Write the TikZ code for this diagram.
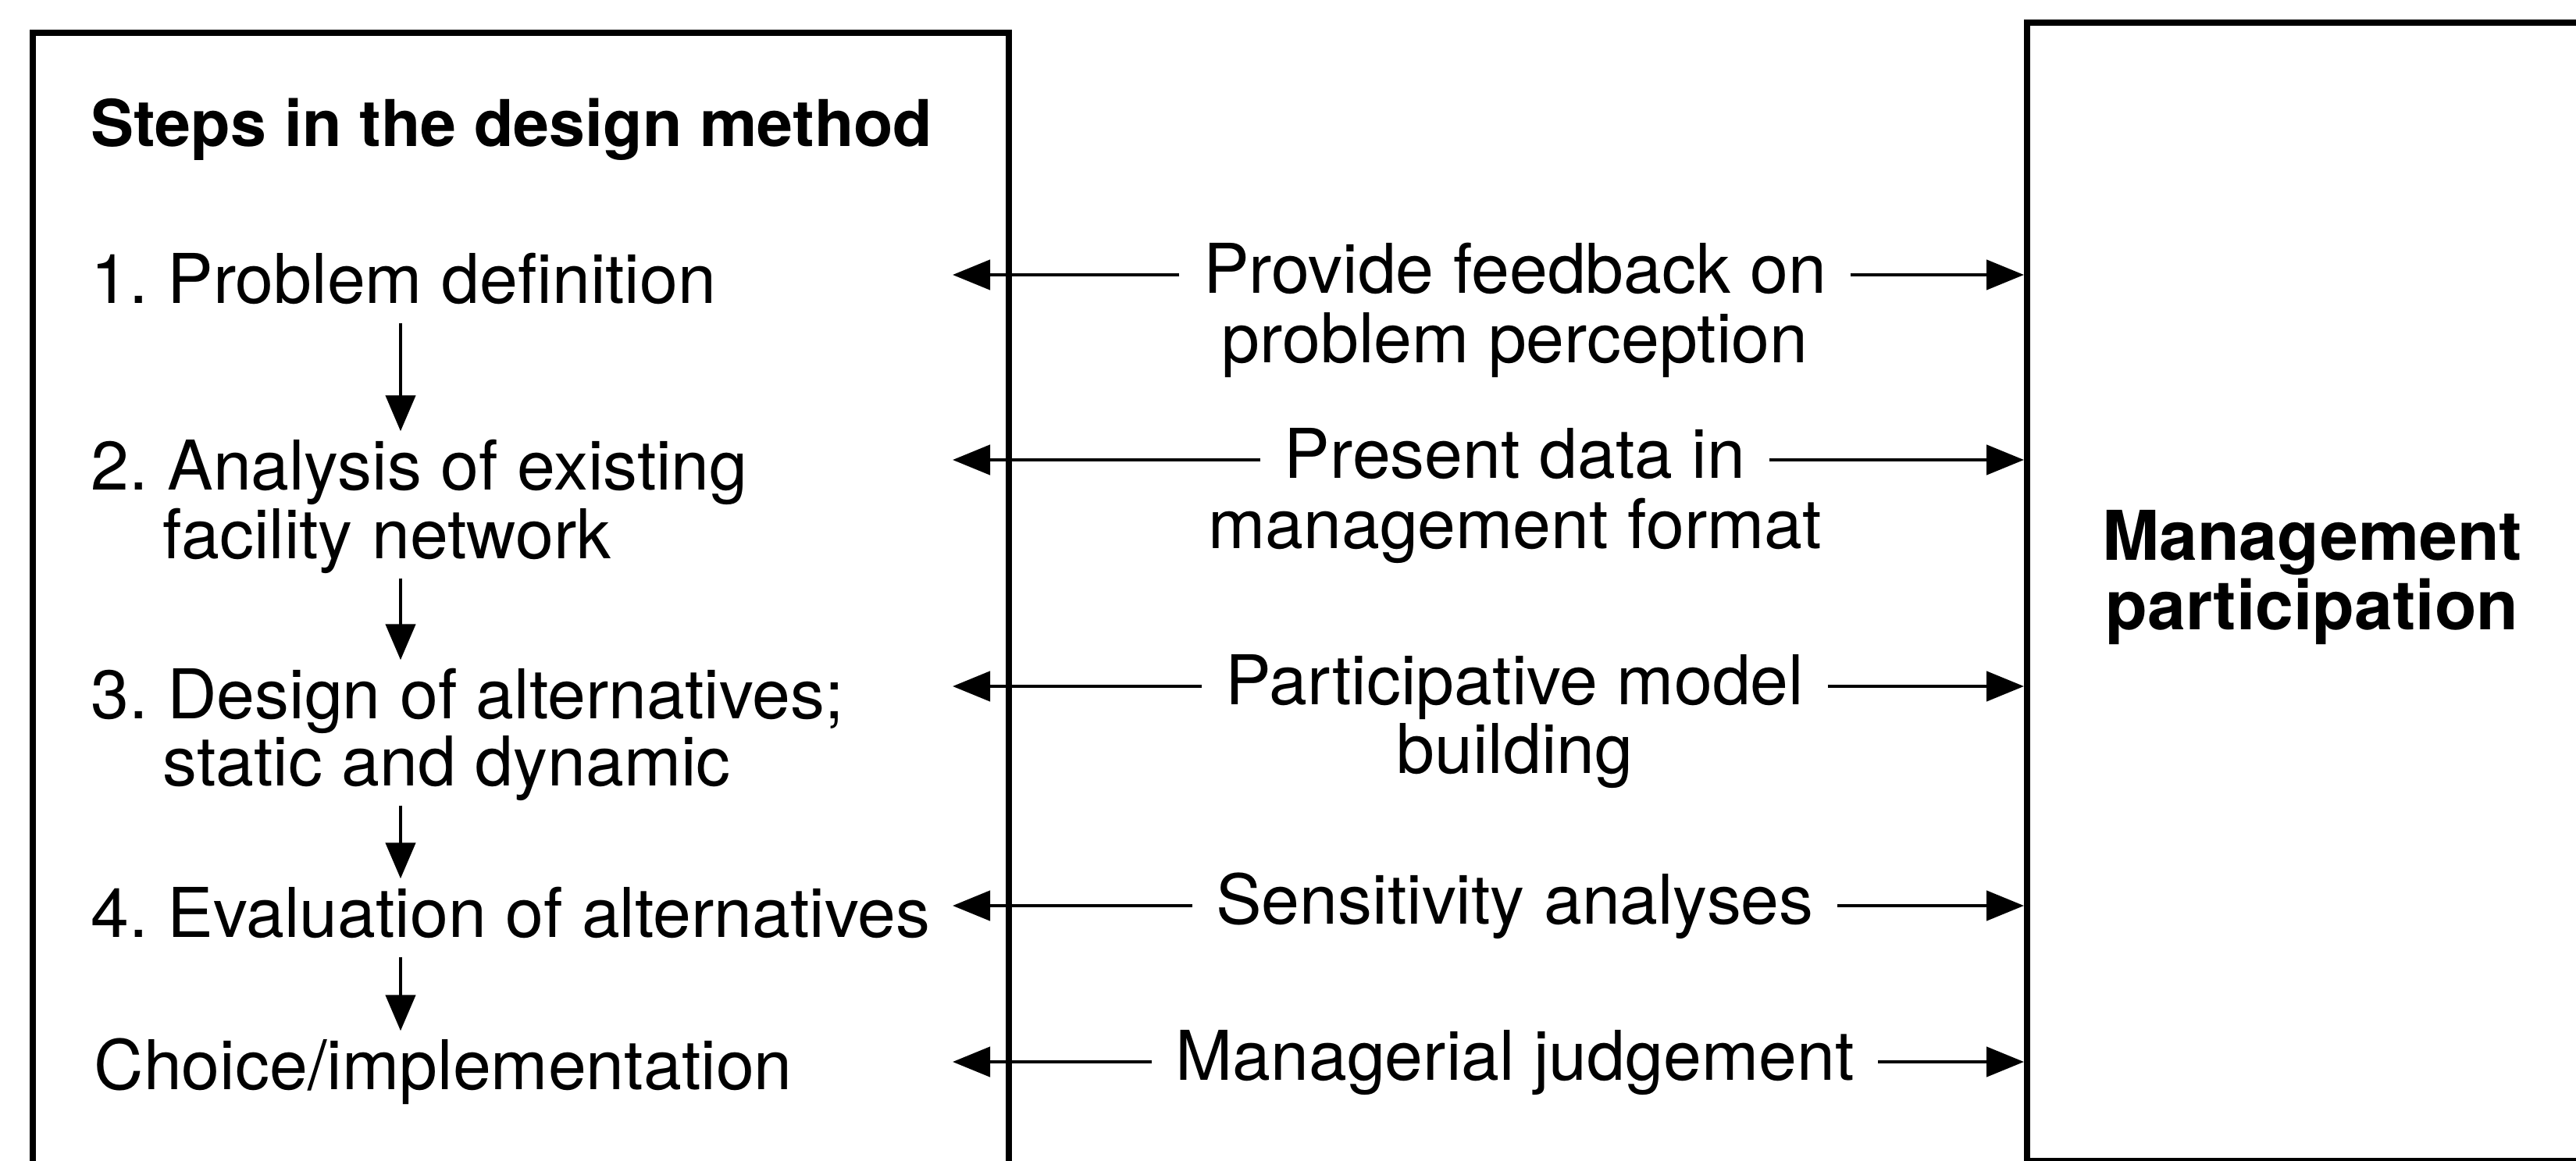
\documentclass[tikz,border=0pt]{standalone}
\usepackage{fontspec}
\setmainfont{TeX Gyre Heros}
\usetikzlibrary{arrows.meta, positioning}
\newcommand{\diagfont}{\fontsize{25pt}{25.3pt}\selectfont}
\newcommand{\headfont}{\fontsize{23.5pt}{25pt}\selectfont\bfseries}

\begin{document}
\frenchspacing
\begin{tikzpicture}[
    every node/.style={font=\diagfont},
    frame/.style={draw, rectangle, line width=2.2pt, inner sep=0pt},
    stepline/.style={anchor=base west, inner sep=0pt, text height=0.64cm, text depth=0pt},
    linkline/.style={anchor=base, text height=0.46cm, text depth=0pt, inner xsep=0.3cm, inner ysep=0pt},
    flow/.style={-{Triangle[length=0.46cm, width=0.38cm]}, line width=1.3pt, shorten <=0.25cm, shorten >=0.1cm},
    link/.style={-{Triangle[length=0.48cm, width=0.38cm]}, line width=1.3pt}
]
\useasboundingbox (0,0) rectangle (32.99,-14.87);

% === Frames (cut by the page edge) ===
\node[frame, anchor=north west, minimum width=12.5cm, minimum height=16cm] (steps) at (0.38,-0.38) {};
\node[frame, anchor=north west, minimum width=8cm, minimum height=14.58cm] (mgmt) at (25.92,-0.25) {};

% === Steps in the design method ===
\node[stepline, font=\headfont] (title) at (1.16,-1.88) {Steps in the design method};
\node[stepline] (s1) at (1.16,-3.88) {1. Problem definition};
\node[stepline] (s2) at (1.16,-6.27) {2. Analysis of existing};
\node[stepline] (s2b) at (2.08,-7.15) {facility network};
\node[stepline] (s3) at (1.16,-9.20) {3. Design of alternatives;};
\node[stepline] (s3b) at (2.08,-10.06) {static and dynamic};
\node[stepline] (s4) at (1.16,-12.00) {4. Evaluation of alternatives};
\node[stepline] (s5) at (1.20,-13.95) {Choice/implementation};

% === Management side ===
\node[font=\diagfont\bfseries, align=center] (mp) at (29.61,-7.40) {Management\\participation};

% === Links between the two ===
\node[linkline] (fb) at (19.40,-3.75) {Provide feedback on};
\node[linkline] (fb2) at (19.40,-4.65) {problem perception};
\node[linkline] (pd) at (19.40,-6.12) {Present data in};
\node[linkline] (pd2) at (19.40,-7.02) {management format};
\node[linkline] (pm) at (19.40,-9.02) {Participative model};
\node[linkline] (pm2) at (19.40,-9.90) {building};
\node[linkline] (sa) at (19.40,-11.83) {Sensitivity analyses};
\node[linkline] (mj) at (19.40,-13.83) {Managerial judgement};

% ============ ARROWS ============
\coordinate (dx) at (5.13,0);
\coordinate (back) at (12.20,0);

% Step sequence
\draw[flow] (s1.south -| dx) -- (s2.north -| dx);
\draw[flow] (s2b.south -| dx) -- (s3.north -| dx);
\draw[flow] (s3b.south -| dx) -- (s4.north -| dx);
\draw[flow] (s4.south -| dx) -- (s5.north -| dx);

% Back to the steps
\draw[link] (fb.west) -- (fb.west -| back);
\draw[link] (pd.west) -- (pd.west -| back);
\draw[link] (pm.west) -- (pm.west -| back);
\draw[link] (sa.west) -- (sa.west -| back);
\draw[link] (mj.west) -- (mj.west -| back);

% On to management
\draw[link] (fb.east) -- (fb.east -| mgmt.west);
\draw[link] (pd.east) -- (pd.east -| mgmt.west);
\draw[link] (pm.east) -- (pm.east -| mgmt.west);
\draw[link] (sa.east) -- (sa.east -| mgmt.west);
\draw[link] (mj.east) -- (mj.east -| mgmt.west);

\end{tikzpicture}
\end{document}
